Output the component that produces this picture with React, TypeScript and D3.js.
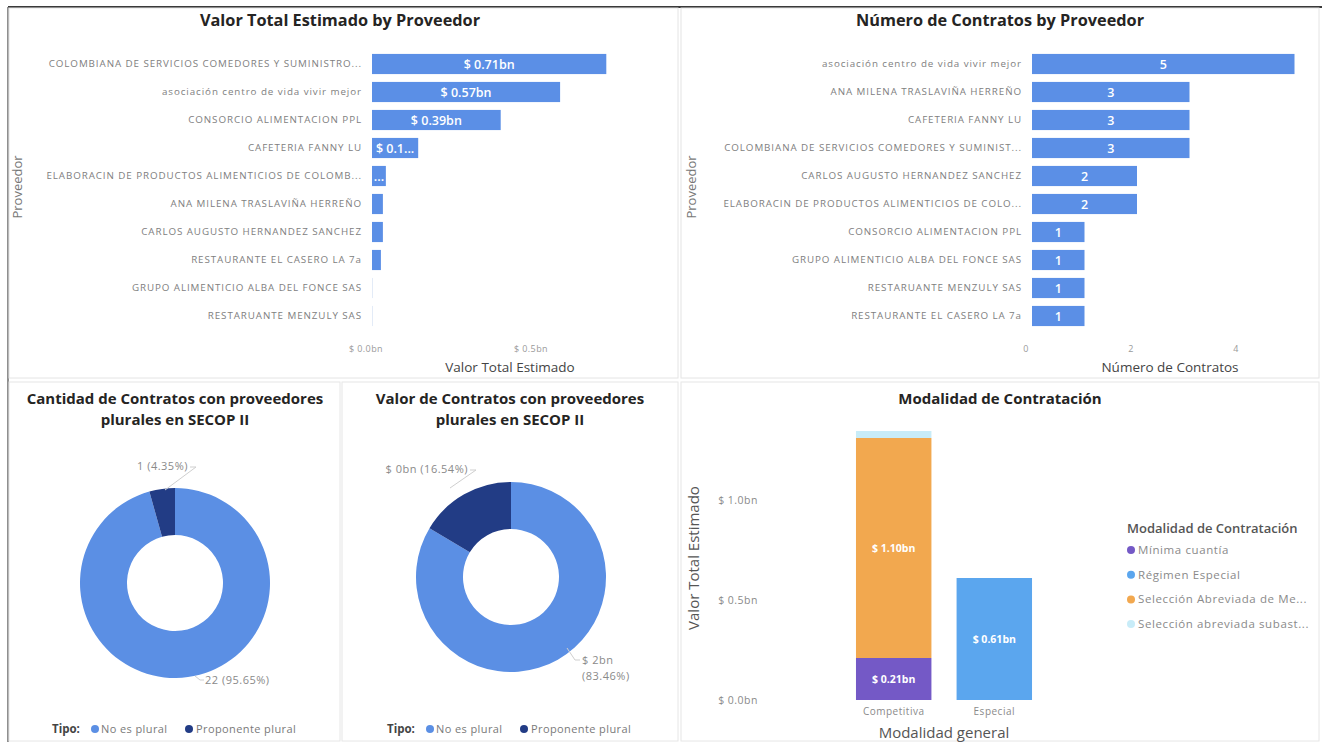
import React from "react";
import * as d3 from "d3";

// ---------- DATA ----------
const providersValor = [
  "COLOMBIANA DE SERVICIOS COMEDORES Y SUMINISTRO...",
  "asociación centro de vida vivir mejor",
  "CONSORCIO ALIMENTACION PPL",
  "CAFETERIA FANNY LU",
  "ELABORACIN DE PRODUCTOS ALIMENTICIOS DE COLOMB...",
  "ANA MILENA TRASLAVIÑA HERREÑO",
  "CARLOS AUGUSTO HERNANDEZ SANCHEZ",
  "RESTAURANTE EL CASERO LA 7a",
  "GRUPO ALIMENTICIO ALBA DEL FONCE SAS",
  "RESTARUANTE MENZULY SAS",
];
const valorBn = [0.71, 0.57, 0.39, 0.14, 0.042, 0.033, 0.033, 0.027, 0.002, 0.001];
const valorLabels = ["$ 0.71bn", "$ 0.57bn", "$ 0.39bn", "$ 0.1...", "...", "", "", "", "", ""];
const valorTicks = [0, 0.5];

const providersNum = [
  "asociación centro de vida vivir mejor",
  "ANA MILENA TRASLAVIÑA HERREÑO",
  "CAFETERIA FANNY LU",
  "COLOMBIANA DE SERVICIOS COMEDORES Y SUMINIST...",
  "CARLOS AUGUSTO HERNANDEZ SANCHEZ",
  "ELABORACIN DE PRODUCTOS ALIMENTICIOS DE COLO...",
  "CONSORCIO ALIMENTACION PPL",
  "GRUPO ALIMENTICIO ALBA DEL FONCE SAS",
  "RESTARUANTE MENZULY SAS",
  "RESTAURANTE EL CASERO LA 7a",
];
const numContratos = [5, 3, 3, 3, 2, 2, 1, 1, 1, 1];
const numTicks = [0, 2, 4];

const tipoNames = ["No es plural", "Proponente plural"];
const cantidadTipo = [22, 1];
const cantidadLabels = ["22 (95.65%)", "1 (4.35%)"];
const valorTipoBn = [1.63, 0.32];
const valorTipoLabels = ["$ 2bn|(83.46%)", "$ 0bn (16.54%)"];

const modalidadGeneral = ["Competitiva", "Especial"];
const modalidadNames = [
  "Mínima cuantía",
  "Régimen Especial",
  "Selección Abreviada de Me...",
  "Selección abreviada subast...",
];
const minimaCuantia = [0.21, 0];
const regimenEspecial = [0, 0.61];
const seleccionMenor = [1.1, 0];
const seleccionSubasta = [0.035, 0];
const modalidadTicks = [0, 0.5, 1.0];

// ---------- STYLE ----------
const FONT = "'Open Sans', 'Segoe UI', sans-serif";
const BAR = "#5b8fe6";
const LIGHT = "#5b8fe4";
const DARK = "#223c85";
const MOD_COLORS = ["#7459c6", "#5ba6ee", "#f2a84f", "#c8ecf8"];
const LABEL = "#808080";
const TITLE = "#252423";

function HBar({
  cats, vals, labels, x, ticks, tickFmt, labelX, title, axisTitle, axisTitleX, yTitleX,
}: any) {
  const y = d3.scaleBand<string>().domain(cats).range([50, 330]).paddingInner(0.28).paddingOuter(0.14);
  return (
    <g>
      <text x={title.x} y={26} textAnchor="middle" fontFamily={FONT} fontWeight={700} fontSize={16.3} fill={TITLE}>
        {title.text}
      </text>
      {cats.map((c: string, i: number) => {
        const yy = y(c)!;
        const w = x(vals[i]) - x(0);
        return (
          <g key={c}>
            <text x={labelX} y={yy + y.bandwidth() / 2} dy="0.35em" textAnchor="end" fontFamily={FONT} fontSize={9.8} letterSpacing={0.92} fill={LABEL}>
              {c}
            </text>
            <rect x={x(0)} y={yy} width={Math.max(w, 0.8)} height={y.bandwidth()} fill={vals[i] < 0.01 ? "#dde6f5" : BAR} />
            {labels[i] ? (
              <text x={x(0) + w / 2} y={yy + y.bandwidth() / 2} dy="0.36em" textAnchor="middle" fontFamily={FONT} fontWeight={600} fontSize={12.5} fill="#ffffff">
                {labels[i]}
              </text>
            ) : null}
          </g>
        );
      })}
      {ticks.map((t: number) => (
        <text key={t} x={x(t) - 6} y={352} textAnchor="middle" fontFamily={FONT} fontSize={9} letterSpacing={0.4} fill="#9a9a9a">
          {tickFmt(t)}
        </text>
      ))}
      <text x={axisTitleX} y={372} textAnchor="middle" fontFamily={FONT} fontSize={13.5} fill="#444">
        {axisTitle}
      </text>
      <text transform={`translate(${yTitleX},187) rotate(-90)`} textAnchor="middle" fontFamily={FONT} fontSize={13} fill="#777">
        Proveedor
      </text>
    </g>
  );
}

function Donut({ cx, cy, values, labels, titleLines, titleX, legendX, labelPos }: any) {
  const pie = d3.pie<number>().sort(null).value((d) => d)(values);
  const arc = d3.arc<d3.PieArcDatum<number>>().innerRadius(48).outerRadius(95);
  return (
    <g>
      {titleLines.map((t: string, i: number) => (
        <text key={i} x={titleX} y={404 + i * 21} textAnchor="middle" fontFamily={FONT} fontWeight={700} fontSize={15} fill={TITLE}>
          {t}
        </text>
      ))}
      <g transform={`translate(${cx},${cy})`}>
        {pie.map((p, i) => (
          <path key={i} d={arc(p)!} fill={i === 0 ? LIGHT : DARK} />
        ))}
      </g>
      {labelPos.map((lp: any, i: number) => (
        <g key={i}>
          <polyline points={lp.line} fill="none" stroke="#cfcfcf" strokeWidth={1} />
          {labels[i].split("|").map((s: string, k: number) => (
            <text key={k} x={lp.x} y={lp.y + k * 16} textAnchor={lp.anchor} fontFamily={FONT} fontSize={11} letterSpacing={0.5} fill="#8a8a8a">
              {s}
            </text>
          ))}
        </g>
      ))}
      <g transform={`translate(${legendX},733)`} fontFamily={FONT}>
        <text x={0} y={0} fontWeight={700} fontSize={11.5} fill="#444">Tipo:</text>
        <circle cx={43} cy={-4} r={4} fill={LIGHT} />
        <text x={49} y={0} fontSize={11} letterSpacing={0.4} fill="#7a7a7a">{tipoNames[0]}</text>
        <circle cx={137} cy={-4} r={4} fill={DARK} />
        <text x={144} y={0} fontSize={11} letterSpacing={0.4} fill="#7a7a7a">{tipoNames[1]}</text>
      </g>
    </g>
  );
}

function Stacked() {
  const x = d3.scaleBand<string>().domain(modalidadGeneral).range([843.4, 1044.6]).paddingInner(0.25).paddingOuter(0.125);
  const y = d3.scaleLinear().domain([0, 1]).range([700, 500]);
  const rows = modalidadGeneral.map((c, i) => ({
    cat: c,
    m0: minimaCuantia[i],
    m1: regimenEspecial[i],
    m2: seleccionMenor[i],
    m3: seleccionSubasta[i],
  }));
  const stack = d3.stack<any>().keys(["m0", "m1", "m2", "m3"])(rows);
  const fmt = (v: number) => `$ ${v.toFixed(2)}bn`;
  return (
    <g fontFamily={FONT}>
      <text x={1000} y={404} textAnchor="middle" fontWeight={700} fontSize={15} fill={TITLE}>
        Modalidad de Contratación
      </text>
      {modalidadTicks.map((t) => (
        <text key={t} x={758} y={y(t)} dy="0.35em" textAnchor="end" fontSize={10.5} letterSpacing={0.5} fill="#8a8a8a">
          {`$ ${t.toFixed(1)}bn`}
        </text>
      ))}
      <text transform={`translate(699,558) rotate(-90)`} textAnchor="middle" fontSize={15} fill="#555">
        Valor Total Estimado
      </text>
      {stack.map((s, si) =>
        s.map((d, di) => {
          const h = y(d[0]) - y(d[1]);
          if (h <= 0) return null;
          const v = d[1] - d[0];
          return (
            <g key={`${si}-${di}`}>
              <rect x={x(modalidadGeneral[di])} y={y(d[1])} width={x.bandwidth()} height={h} fill={MOD_COLORS[si]} />
              {v > 0.1 ? (
                <text x={x(modalidadGeneral[di])! + x.bandwidth() / 2} y={(y(d[0]) + y(d[1])) / 2} dy="0.35em" textAnchor="middle" fontWeight={700} fontSize={10.5} fill="#ffffff">
                  {fmt(v)}
                </text>
              ) : null}
            </g>
          );
        })
      )}
      {modalidadGeneral.map((c) => (
        <text key={c} x={x(c)! + x.bandwidth() / 2} y={715} textAnchor="middle" fontSize={10} letterSpacing={0.5} fill="#8a8a8a">
          {c}
        </text>
      ))}
      <text x={944} y={738} textAnchor="middle" fontSize={15} fill="#555">
        Modalidad general
      </text>
      <text x={1127} y={533} fontSize={13} fontWeight={600} fill="#555">
        Modalidad de Contratación
      </text>
      {modalidadNames.map((n, i) => (
        <g key={n} transform={`translate(1131,${550 + i * 24.7})`}>
          <circle cx={0} cy={0} r={4} fill={MOD_COLORS[i]} />
          <text x={7} y={0} dy="0.35em" fontSize={11.5} letterSpacing={0.6} fill="#8a8a8a">{n}</text>
        </g>
      ))}
    </g>
  );
}

export default function App() {
  const x1 = d3.scaleLinear().domain([0, 0.5]).range([372, 537]);
  const x2 = d3.scaleLinear().domain([0, 4]).range([1032, 1242]);
  return (
    <svg width={1322} height={742} style={{ position: "absolute", left: 0, top: 0, display: "block", background: "#fff" }}>
      <rect x={0} y={0} width={1322} height={742} fill="#ffffff" />
      {/* panel frames */}
      <line x1={8} y1={7} x2={1322} y2={7} stroke="#3a3a3a" strokeWidth={2} />
      <line x1={8} y1={7} x2={8} y2={742} stroke="#6a6a6a" strokeWidth={1.5} />
      <rect x={9} y={8} width={669} height={370} fill="none" stroke="#e4e4e4" />
      <rect x={681} y={8} width={638} height={370} fill="none" stroke="#e4e4e4" />
      <rect x={9} y={382} width={331} height={359} fill="none" stroke="#e6e6e6" />
      <rect x={342} y={382} width={336} height={359} fill="none" stroke="#e6e6e6" />
      <rect x={681} y={382} width={638} height={359} fill="none" stroke="#e6e6e6" />

      <HBar
        cats={providersValor}
        vals={valorBn}
        labels={valorLabels}
        x={x1}
        ticks={valorTicks}
        tickFmt={(t: number) => `$ ${t.toFixed(1)}bn`}
        labelX={362}
        title={{ x: 340, text: "Valor Total Estimado by Proveedor" }}
        axisTitle="Valor Total Estimado"
        axisTitleX={510}
        yTitleX={22}
      />
      <HBar
        cats={providersNum}
        vals={numContratos}
        labels={numContratos.map(String)}
        x={x2}
        ticks={numTicks}
        tickFmt={(t: number) => String(t)}
        labelX={1022}
        title={{ x: 1000, text: "Número de Contratos by Proveedor" }}
        axisTitle="Número de Contratos"
        axisTitleX={1170}
        yTitleX={696}
      />

      <Donut
        cx={175}
        cy={583}
        values={cantidadTipo}
        labels={cantidadLabels}
        titleLines={["Cantidad de Contratos con proveedores", "plurales en SECOP II"]}
        titleX={175}
        legendX={52}
        labelPos={[
          { x: 205, y: 684, anchor: "start", line: "195,676 200,680 204,680" },
          { x: 188, y: 470, anchor: "end", line: "190,467 196,467 165,490" },
        ]}
      />
      <Donut
        cx={511}
        cy={577}
        values={valorTipoBn}
        labels={valorTipoLabels}
        titleLines={["Valor de Contratos con proveedores", "plurales en SECOP II"]}
        titleX={510}
        legendX={387}
        labelPos={[
          { x: 582, y: 664, anchor: "start", line: "567,648 575,660 580,660" },
          { x: 468, y: 473, anchor: "end", line: "470,470 476,470 450,488" },
        ]}
      />
      <Stacked />
    </svg>
  );
}
